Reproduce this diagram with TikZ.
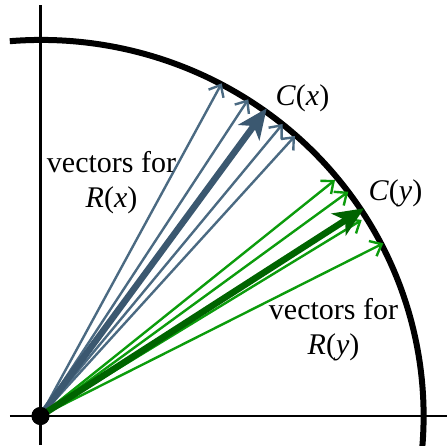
\documentclass[tikz,border=0pt]{standalone}
\usepackage{fontspec}
\setmainfont{Liberation Serif}
\usetikzlibrary{arrows.meta}
\definecolor{bluethin}{HTML}{4B6A82}
\definecolor{bluethick}{HTML}{3B5870}
\definecolor{greenthin}{HTML}{0C9C0C}
\definecolor{greenthick}{HTML}{006400}
\begin{document}
\begin{tikzpicture}[x=1pt,y=1pt,
  axis/.style={line width=2.4pt,black},
  circ/.style={line width=6pt,black},
  thinvec/.style={line width=2.4pt,-{Straight Barb[length=10pt,width=17pt]}},
  thickvec/.style={line width=6.5pt,-{Stealth[length=30pt,width=26pt,inset=8pt]}},
  lab/.style={font=\fontsize{30}{35}\selectfont,align=center,inner sep=0pt}]
\useasboundingbox (-40.5,-29) rectangle (406.5,416);
% axes
\coordinate (yb) at (0,-29);
\coordinate (yt) at (0,411);
\coordinate (xl) at (-30.5,0);
\coordinate (xr) at (406.5,0);
\draw[axis] (yb) -- (yt);
\draw[axis] (xl) -- (xr);
% arc
\coordinate (as) at (-30.7,374.8);
\draw[circ] (as) arc[start angle=94.7, end angle=-4.6, x radius=382.5, y radius=376];
% origin
\node[circle,fill=black,minimum size=18pt,inner sep=0pt] (o) at (0,0) {};
% tips
\coordinate (b1) at (181.2,332.7);
\coordinate (b2) at (207.8,316.7);
\coordinate (b3) at (242.2,292);
\coordinate (b4) at (254.5,280);
\coordinate (bt) at (226.2,307.7);
\coordinate (g1) at (294.5,236);
\coordinate (g2) at (307.8,224.3);
\coordinate (g3) at (321.2,196);
\coordinate (g4) at (342.8,172.7);
\coordinate (gt) at (323.5,207.7);
% vectors
\foreach \t in {b1,b2,b3,b4} \draw[thinvec,bluethin] (o.center) -- (\t);
\draw[thickvec,bluethick] (o.center) -- (bt);
\foreach \t in {g1,g2,g3,g4} \draw[thinvec,greenthin] (o.center) -- (\t);
\draw[thickvec,greenthick] (o.center) -- (gt);
\node[circle,fill=black,minimum size=18pt,inner sep=0pt] (o2) at (o) {};
% labels
\node[lab] (cx) at (262,318) {\textit{C}(\textit{x})};
\node[lab] (cy) at (355,223) {\textit{C}(\textit{y})};
\node[lab] (rx) at (71,233.5) {vectors for\\\textit{R}(\textit{x})};
\node[lab] (ry) at (293,86) {vectors for\\\textit{R}(\textit{y})};
\end{tikzpicture}
\end{document}
